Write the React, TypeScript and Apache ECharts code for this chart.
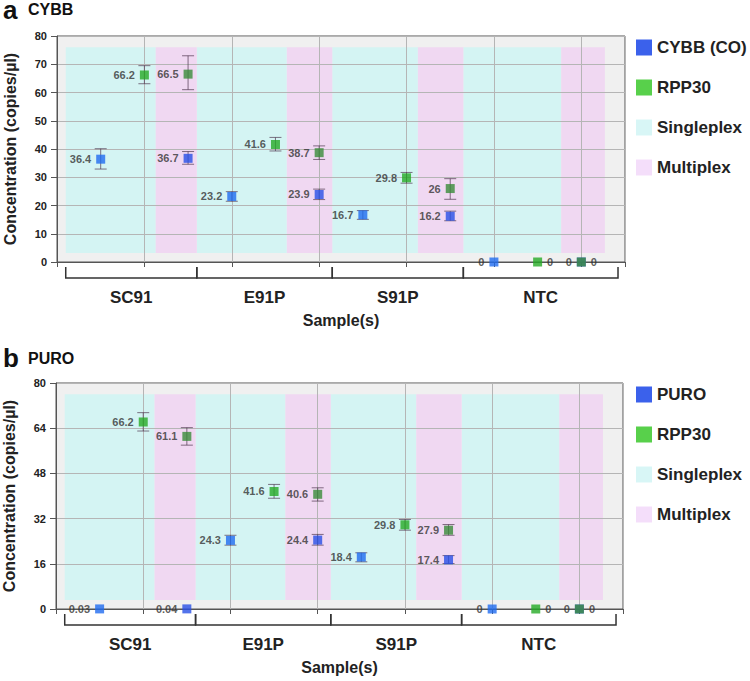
import React, { useEffect, useRef } from "react";
import * as echarts from "echarts";

// ---- data ----
const categories = ["SC91", "E91P", "S91P", "NTC"];
const categoryBounds = [0.1, 1.6, 3.15, 4.65, 6.42];
const singleBands = [[0.1, 1.13], [1.6, 2.63], [3.15, 4.13], [4.65, 5.77]];
const multiBands = [[1.13, 1.6], [2.63, 3.15], [4.13, 4.65], [5.77, 6.27]];
const bandY = [3.2, 76];

const singleTargetX = [0.5, 2.0, 3.5, 5.0];
const singleRefX = [1.0, 2.5, 4.0, 5.5];
const multiX = [1.5, 3.0, 4.5, 6.0];

// panel a (CYBB)
const cybbSingle = [36.4, 23.2, 16.7, 0];
const cybbSingleErr = [[32.9, 40.1], [21.5, 24.9], [15.1, 18.2], null];
const cybbMulti = [36.7, 23.9, 16.2, 0];
const cybbMultiErr = [[34.6, 39.1], [22.1, 25.8], [14.6, 18.0], null];
const rppSingleA = [66.2, 41.6, 29.8, 0];
const rppSingleErrA = [[63.1, 69.5], [39.3, 44.1], [27.9, 31.7], null];
const rppMultiA = [66.5, 38.7, 26, 0];
const rppMultiErrA = [[61, 73], [36.3, 41.1], [22.2, 29.5], null];

// panel b (PURO)
const puroSingle = [0.03, 24.3, 18.4, 0];
const puroSingleErr = [null, [22.6, 26.1], [16.7, 19.9], null];
const puroMulti = [0.04, 24.4, 17.4, 0];
const puroMultiErr = [null, [22.6, 26.4], [16.1, 18.9], null];
const rppSingleB = [66.2, 41.6, 29.8, 0];
const rppSingleErrB = [[63, 69.5], [39.2, 44.1], [27.9, 31.7], null];
const rppMultiB = [61.1, 40.6, 27.9, 0];
const rppMultiErrB = [[58, 64.2], [38.2, 42.9], [26.1, 29.9], null];

const yTicksA = { max: 80, interval: 10 };
const yTicksB = { max: 80, interval: 16 };

// ---- styles ----
const FONT = '"Liberation Sans", Arial, Helvetica, sans-serif';
const C_BLUE_S = "#1f6cf0";
const C_BLUE_M = "#2850e6";
const C_GREEN_S = "#25aa25";
const C_GREEN_M = "#3a8c3a";
const C_CYAN = "#d4f4f3";
const C_PINK = "#f0d8f2";
const LEG_BLUE = "#0a3ae6";
const LEG_GREEN = "#2ec41e";
const LEG_CYAN = "#d8f6f6";
const LEG_PINK = "#f4defa";
const ERR = "rgba(80,55,80,0.7)";

function pointSeries(name: string, gi: number, single: number[], multi: number[], sx: number[], cs: string, cm: string, singlePos: string[], multiPos: string[]) {
  const data: any[] = [];
  single.forEach((v, i) => data.push({ value: [sx[i], v], itemStyle: { color: cs }, label: { position: singlePos[i] } }));
  multi.forEach((v, i) => data.push({ value: [multiX[i], v], itemStyle: { color: cm }, label: { position: multiPos[i] } }));
  return {
    name, type: "scatter", xAxisIndex: gi, yAxisIndex: gi, symbol: "rect", symbolSize: 9, z: 5, clip: false,
    data,
    label: { show: true, distance: 5, fontFamily: FONT, fontWeight: "bold", fontSize: 11, color: "#333",
      formatter: (p: any) => String(p.value[1]) },
  };
}

function errSeries(gi: number, groups: { xs: number[]; errs: any[] }[]) {
  const data: any[] = [];
  groups.forEach((g) => g.errs.forEach((e, i) => { if (e) data.push([g.xs[i], e[0], e[1]]); }));
  return {
    type: "custom", xAxisIndex: gi, yAxisIndex: gi, z: 4, clip: false, silent: true, data,
    renderItem: (params: any, api: any) => {
      const x = api.value(0);
      const lo = api.coord([x, api.value(1)]);
      const hi = api.coord([x, api.value(2)]);
      const w = 6;
      const st = { stroke: ERR, lineWidth: 1 };
      return { type: "group", children: [
        { type: "line", shape: { x1: lo[0], y1: lo[1], x2: hi[0], y2: hi[1] }, style: st },
        { type: "line", shape: { x1: lo[0] - w, y1: lo[1], x2: lo[0] + w, y2: lo[1] }, style: st },
        { type: "line", shape: { x1: hi[0] - w, y1: hi[1], x2: hi[0] + w, y2: hi[1] }, style: st },
      ] };
    },
  };
}

function bandSeries(name: string, gi: number, bands: number[][], color: string) {
  return {
    name, type: "custom", xAxisIndex: gi, yAxisIndex: gi, z: 1, silent: true, clip: false,
    itemStyle: { color },
    data: bands.map((b) => [b[0], b[1], bandY[0], bandY[1]]),
    renderItem: (params: any, api: any) => {
      const p1 = api.coord([api.value(0), api.value(3)]);
      const p2 = api.coord([api.value(1), api.value(2)]);
      return { type: "rect", shape: { x: p1[0], y: p1[1], width: p2[0] - p1[0], height: p2[1] - p1[1] }, style: { fill: color } };
    },
  };
}

function bracketSeries(gi: number) {
  const data = categories.map((c, i) => [categoryBounds[i], categoryBounds[i + 1], i]);
  return {
    type: "custom", xAxisIndex: gi, yAxisIndex: gi, z: 3, silent: true, clip: false, data,
    renderItem: (params: any, api: any) => {
      const s = api.coord([api.value(0), 0]);
      const e = api.coord([api.value(1), 0]);
      const y0 = s[1];
      return { type: "group", children: [
        { type: "polyline", shape: { points: [[s[0], y0 + 5], [s[0], y0 + 16], [e[0], y0 + 16], [e[0], y0 + 5]] },
          style: { stroke: "#333", lineWidth: 1.5, fill: "none" } },
        { type: "text", style: { text: categories[api.value(2)], x: (s[0] + e[0]) / 2, y: y0 + 35, align: "center", verticalAlign: "middle",
          font: `bold 17px ${FONT}`, fill: "#222" } },
      ] };
    },
  };
}

function xAxisDef(gi: number) {
  return {
    type: "value", gridIndex: gi, min: 0, max: 6.5, interval: 1, z: 3,
    axisLabel: { show: false },
    axisLine: { show: true, lineStyle: { color: "#555" } },
    axisTick: { show: true, length: 5, lineStyle: { color: "#555" } },
    splitLine: { show: true, lineStyle: { color: "#b5b5b5", width: 1 } },
    name: "Sample(s)", nameLocation: "middle", nameGap: 50,
    nameTextStyle: { fontFamily: FONT, fontSize: 16, fontWeight: "bold", color: "#222" },
  };
}

function yAxisDef(gi: number, t: { max: number; interval: number }) {
  return {
    type: "value", gridIndex: gi, min: 0, max: t.max, interval: t.interval, z: 3,
    axisLine: { show: true, lineStyle: { color: "#555" } },
    axisTick: { show: true, length: 6, lineStyle: { color: "#555" } },
    axisLabel: { margin: 10, fontFamily: FONT, fontWeight: "bold", fontSize: 11, color: "#222" },
    splitLine: { show: true, lineStyle: { color: "#b5b5b5", width: 1 } },
    name: "Concentration (copies/µl)", nameLocation: "middle", nameGap: 39, nameRotate: 90,
    nameTextStyle: { fontFamily: FONT, fontSize: 16, fontWeight: "bold", color: "#222" },
  };
}

function legendDef(top: number, target: string) {
  return {
    orient: "vertical", left: 636, top, padding: 0, icon: "rect", itemWidth: 16, itemHeight: 16, itemGap: 23,
    selectedMode: false,
    textStyle: { fontFamily: FONT, fontSize: 17, fontWeight: "bold", color: "#222" },
    data: [
      { name: target, itemStyle: { color: LEG_BLUE } },
      { name: "RPP30", itemStyle: { color: LEG_GREEN } },
      { name: "Singleplex", itemStyle: { color: LEG_CYAN } },
      { name: "Multiplex", itemStyle: { color: LEG_PINK } },
    ],
  };
}

export default function App() {
  const ref = useRef<HTMLDivElement>(null);
  useEffect(() => {
    if (!ref.current) return;
    const chart = echarts.init(ref.current, null, { renderer: "svg" });
    const gridCommon = { show: true, backgroundColor: "#f0f0f0", borderColor: "#555", borderWidth: 1, containLabel: false, outerBoundsMode: "none" };
    const option: any = {
      animation: false,
      grid: [
        { ...gridCommon, left: 57, top: 36, width: 568, height: 226 },
        { ...gridCommon, left: 56, top: 383, width: 567, height: 226 },
      ],
      xAxis: [xAxisDef(0), xAxisDef(1)],
      yAxis: [yAxisDef(0, yTicksA), yAxisDef(1, yTicksB)],
      legend: [legendDef(39, "CYBB (CO)"), legendDef(386, "PURO")],
      graphic: [
        { type: "text", style: { text: "a", x: 3, y: 10, verticalAlign: "middle", font: `bold 26px ${FONT}`, fill: "#111" } },
        { type: "text", style: { text: "CYBB", x: 28, y: 9, verticalAlign: "middle", font: `bold 16px ${FONT}`, fill: "#111" } },
        { type: "text", style: { text: "b", x: 3, y: 358, verticalAlign: "middle", font: `bold 26px ${FONT}`, fill: "#111" } },
        { type: "text", style: { text: "PURO", x: 28, y: 358, verticalAlign: "middle", font: `bold 16px ${FONT}`, fill: "#111" } },
      ],
      series: [
        bandSeries("Singleplex", 0, singleBands, C_CYAN),
        bandSeries("Multiplex", 0, multiBands, C_PINK),
        bandSeries("Singleplex", 1, singleBands, C_CYAN),
        bandSeries("Multiplex", 1, multiBands, C_PINK),
        bracketSeries(0),
        bracketSeries(1),
        errSeries(0, [
          { xs: singleTargetX, errs: cybbSingleErr }, { xs: multiX, errs: cybbMultiErr },
          { xs: singleRefX, errs: rppSingleErrA }, { xs: multiX, errs: rppMultiErrA },
        ]),
        errSeries(1, [
          { xs: singleTargetX, errs: puroSingleErr }, { xs: multiX, errs: puroMultiErr },
          { xs: singleRefX, errs: rppSingleErrB }, { xs: multiX, errs: rppMultiErrB },
        ]),
        pointSeries("CYBB (CO)", 0, cybbSingle, cybbMulti, singleTargetX, C_BLUE_S, C_BLUE_M,
          ["left", "left", "left", "left"], ["left", "left", "left", "left"]),
        pointSeries("RPP30", 0, rppSingleA, rppMultiA, singleRefX, C_GREEN_S, C_GREEN_M,
          ["left", "left", "left", "right"], ["left", "left", "left", "right"]),
        pointSeries("PURO", 1, puroSingle, puroMulti, singleTargetX, C_BLUE_S, C_BLUE_M,
          ["left", "left", "left", "left"], ["left", "left", "left", "left"]),
        pointSeries("RPP30", 1, rppSingleB, rppMultiB, singleRefX, C_GREEN_S, C_GREEN_M,
          ["left", "left", "left", "right"], ["left", "left", "left", "right"]),
      ],
    };
    chart.setOption(option);
    return () => chart.dispose();
  }, []);
  return <div ref={ref} style={{ position: "fixed", left: 0, top: 0, width: 750, height: 681, background: "#fff" }} />;
}
